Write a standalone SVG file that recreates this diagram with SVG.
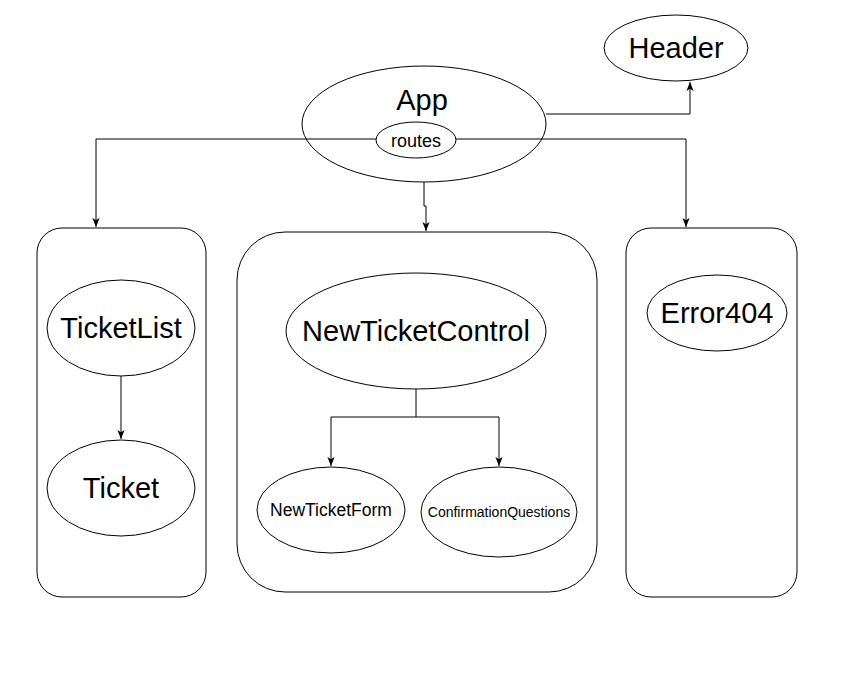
<svg xmlns="http://www.w3.org/2000/svg" width="844" height="686" viewBox="0 0 844 686">
<defs>
<marker id="arr" viewBox="0 0 10 10" refX="10" refY="5" markerWidth="9" markerHeight="9" markerUnits="userSpaceOnUse" orient="auto">
<path d="M0,1 L10,5 L0,9 L2.5,5 Z" fill="#000"/>
</marker>
</defs>
<style>
.shape{fill:#fff;stroke:#000;stroke-width:1}
.box{fill:none;stroke:#000;stroke-width:1}
.edge{fill:none;stroke:#000;stroke-width:1;marker-end:url(#arr)}
text{font-family:"Liberation Sans",Arial,sans-serif;fill:#000;text-anchor:middle}
.big{font-size:29px}
</style>
<rect width="844" height="686" fill="#fff"/>
<g id="box-left"><rect class="box" x="37" y="228" width="169" height="369" rx="25" ry="25"/></g>
<g id="box-middle"><rect class="box" x="237" y="232" width="360" height="360" rx="48" ry="48"/></g>
<g id="box-right"><rect class="box" x="626" y="228" width="171" height="369" rx="25" ry="25"/></g>
<g id="connectors">
<path class="edge" d="M546,114 L690,114 L690,82"/>
<path class="edge" d="M376,139 L96,139 L96,227"/>
<path class="edge" d="M456,139 L686,139 L686,227"/>
<path class="edge" d="M424,182 L424,206 L426,206 L426,231"/>
<path class="edge" d="M121,376 L121,439"/>
<path class="edge" d="M416,389 L416,417 L331,417 L331,466"/>
<path class="edge" d="M416,417 L499,417 L499,466"/>
</g>
<g id="header"><ellipse class="shape" cx="676" cy="48" rx="72" ry="33"/><text class="big" x="676" y="58">Header</text></g>
<g id="app"><ellipse class="shape" cx="424" cy="124" rx="122" ry="58" style="fill:none"/><text class="big" x="422" y="110">App</text></g>
<g id="routes"><ellipse class="shape" cx="416" cy="140" rx="40" ry="18"/><text x="416" y="147" font-size="18">routes</text></g>
<g id="ticketlist"><ellipse class="shape" cx="121" cy="328" rx="74" ry="48"/><text class="big" x="121" y="338">TicketList</text></g>
<g id="ticket"><ellipse class="shape" cx="121" cy="488" rx="74" ry="48"/><text class="big" x="121" y="498">Ticket</text></g>
<g id="newticketcontrol"><ellipse class="shape" cx="416" cy="331" rx="130" ry="58"/><text class="big" x="416" y="341">NewTicketControl</text></g>
<g id="newticketform"><ellipse class="shape" cx="331" cy="510" rx="74" ry="43"/><text x="331" y="516" font-size="17.5">NewTicketForm</text></g>
<g id="confirmationquestions"><ellipse class="shape" cx="499" cy="512" rx="78" ry="45"/><text x="499" y="517" font-size="14">ConfirmationQuestions</text></g>
<g id="error404"><ellipse class="shape" cx="717" cy="313" rx="70" ry="38"/><text class="big" x="717" y="323">Error404</text></g>
</svg>
